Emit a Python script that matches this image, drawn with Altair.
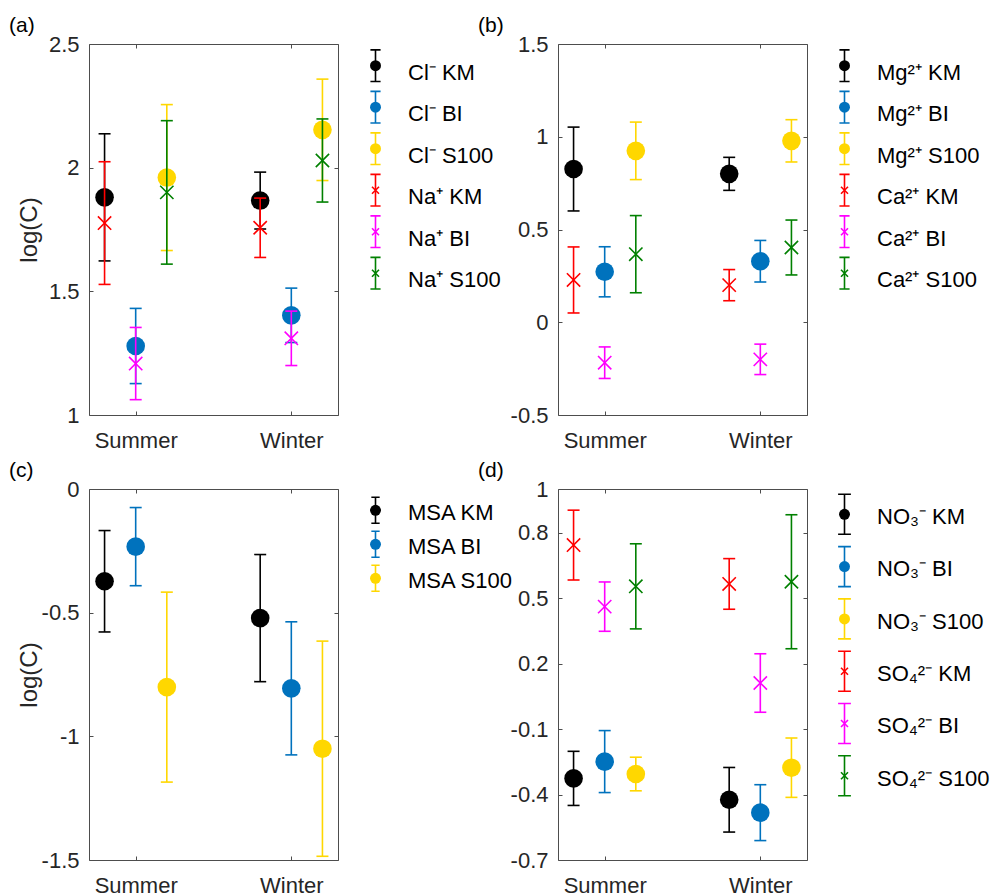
import json
import altair as alt
import pandas as pd

SEASONS = ["Summer", "Winter"]
STATIONS = ["KM", "BI", "S100"]

# rows: KM, BI, S100 ; columns: Summer, Winter
# panel (a)
CL_MEAN = [[1.880, 1.867], [1.279, 1.403], [1.960, 2.153]]
CL_ERR = [[0.257, 0.115], [0.152, 0.110], [0.295, 0.205]]
NA_MEAN = [[1.776, 1.757], [1.208, 1.310], [1.900, 2.029]]
NA_ERR = [[0.248, 0.120], [0.146, 0.110], [0.290, 0.168]]
# panel (b)
MG_MEAN = [[0.826, 0.800], [0.272, 0.329], [0.924, 0.978]]
MG_ERR = [[0.226, 0.089], [0.135, 0.112], [0.155, 0.114]]
CA_MEAN = [[0.228, 0.200], [-0.218, -0.200], [0.367, 0.403]]
CA_ERR = [[0.178, 0.084], [0.085, 0.082], [0.208, 0.148]]
# panel (c)
MSA_MEAN = [[-0.373, -0.522], [-0.233, -0.806], [-0.801, -1.050]]
MSA_ERR = [[0.205, 0.257], [0.158, 0.269], [0.384, 0.435]]
# panel (d)
NO3_MEAN = [[-0.326, -0.424], [-0.249, -0.483], [-0.306, -0.277]]
NO3_ERR = [[0.124, 0.148], [0.142, 0.128], [0.077, 0.136]]
SO4_MEAN = [[0.743, 0.565], [0.461, 0.111], [0.554, 0.575]]
SO4_ERR = [[0.160, 0.116], [0.113, 0.134], [0.195, 0.307]]

ION_A = ["Cl⁻", "Na⁺"]
ION_B = ["Mg²⁺", "Ca²⁺"]
ION_C = ["MSA"]
ION_D = ["NO₃⁻", "SO₄²⁻"]

YDOM_A, YTICKS_A = [1, 2.5], [1, 1.5, 2, 2.5]
YDOM_B, YTICKS_B = [-0.5, 1.5], [-0.5, 0, 0.5, 1, 1.5]
YDOM_C, YTICKS_C = [-1.5, 0], [-1.5, -1, -0.5, 0]
YDOM_D, YTICKS_D = [-0.7, 1], [-0.7, -0.4, -0.1, 0.2, 0.5, 0.8, 1]

# styles
COLORS = [["#000000", "#0072BD", "#FFD700"], ["#FF0000", "#FF00FF", "#008000"]]
FONT = "Liberation Sans"
AXC = "#262626"
W, H = 249, 371
LW = 1.6
XPATH = "M-1,-1L1,1M-1,1L1,-1"
GLYPH = "M0,-1L0,1M-0.32,-1L0.32,-1M-0.32,1L0.32,1"


def make_df(ions, means, errs):
    rows = []
    for g, ion in enumerate(ions):
        for si, st in enumerate(STATIONS):
            for ki, _ in enumerate(SEASONS):
                rows.append(dict(series=f"{ion} {st}", group=g, station=si,
                                 season=ki + 1, mean=means[g][si][ki],
                                 err=errs[g][si][ki]))
    return pd.DataFrame(rows)


def make_plot(ions, means, errs, ydom, yticks, tag, ytitle):
    df = make_df(ions, means, errs)
    base = alt.Chart(df).transform_calculate(
        x="datum.season + (datum.station - 1) * 0.2",
        lo="datum.mean - datum.err",
        hi="datum.mean + datum.err",
    )
    xs = alt.Scale(domain=[0.7, 2.3], nice=False, zero=False)
    ys = alt.Scale(domain=ydom, nice=False, zero=False)
    season_expr = json.dumps(SEASONS) + "[datum.value - 1]"
    ax_bottom = alt.Axis(orient="bottom", values=[1, 2], labelExpr=season_expr,
                         offset=-4, labelPadding=15, labelFlush=False, title=None)
    ax_top = alt.Axis(orient="top", values=[1, 2], labels=False, offset=-4, title=None)
    left_kw = dict(orient="left", values=yticks, labelExpr="toString(datum.value)",
                   offset=-4, labelPadding=10, labelFlush=False)
    if ytitle:
        ax_left = alt.Axis(title=ytitle, titleX=-52, titleY=H / 2, titleAngle=270,
                           titleBaseline="bottom", titleAlign="center", **left_kw)
    else:
        ax_left = alt.Axis(title=None, **left_kw)
    ax_right = alt.Axis(orient="right", values=yticks, labels=False, offset=-4, title=None)

    layers = []
    idx = 0
    for g, ion in enumerate(ions):
        for si, st in enumerate(STATIONS):
            name = f"{ion} {st}"
            col = COLORS[g][si]
            b = base.transform_filter(alt.datum.series == name)
            if idx == 0:
                xa, ya = ax_bottom, ax_left
            elif idx == 1:
                xa, ya = ax_top, ax_right
            else:
                xa, ya = None, None
            idx += 1
            layers.append(b.mark_rule(color=col, strokeWidth=LW).encode(
                x=alt.X("x:Q", scale=xs, axis=xa),
                y=alt.Y("lo:Q", scale=ys, axis=ya),
                y2="hi:Q"))
            for f in ["lo", "hi"]:
                layers.append(b.mark_rule(color=col, strokeWidth=LW, xOffset=-6, x2Offset=6).encode(
                    x=alt.X("x:Q", scale=xs, axis=None), x2="x:Q",
                    y=alt.Y(f"{f}:Q", scale=ys, axis=None)))
            if g == 0:
                pt = b.mark_point(shape="circle", filled=True, size=346, color=col, opacity=1)
            else:
                pt = b.mark_point(shape=XPATH, filled=False, size=177, color=col,
                                  strokeWidth=LW, opacity=1)
            layers.append(pt.encode(x=alt.X("x:Q", scale=xs, axis=None),
                                    y=alt.Y("mean:Q", scale=ys, axis=None)))
    return alt.layer(*layers).resolve_axis(x="independent", y="independent").properties(
        width=W, height=H,
        view=alt.ViewBackground(stroke="#4d4d4d", strokeWidth=1),
        title=alt.TitleParams(text=tag, anchor="start", frame="group", dx=-80, offset=-20,
                              fontSize=21, fontWeight="normal", font=FONT, color="black",
                              baseline="alphabetic"),
    )


def make_legend(ions, width, first, step, text_dy):
    labels, colors, groups = [], [], []
    for g, ion in enumerate(ions):
        for si, st in enumerate(STATIONS):
            labels.append(f"{ion} {st}")
            colors.append(COLORS[g][si])
            groups.append(g)
    df = pd.DataFrame(dict(label=labels, group=groups))
    n = len(labels)
    y = alt.Y("label:N", axis=None,
              scale=alt.Scale(type="point", domain=labels,
                              range=[first, first + (n - 1) * step], padding=0))
    color = alt.Color("label:N", scale=alt.Scale(domain=labels, range=colors), legend=None)
    base = alt.Chart(df)
    glyph = base.mark_point(shape=GLYPH, filled=False, size=(0.765 * step) ** 2,
                            strokeWidth=LW, opacity=1).encode(x=alt.value(37.5), y=y, color=color)
    circ = base.transform_filter(alt.datum.group == 0).mark_point(
        shape="circle", filled=True, size=120, opacity=1).encode(x=alt.value(37.5), y=y, color=color)
    crs = base.transform_filter(alt.datum.group == 1).mark_point(
        shape=XPATH, filled=False, size=49, strokeWidth=LW, opacity=1).encode(
        x=alt.value(37.5), y=y, color=color)
    txt = base.mark_text(align="left", baseline="alphabetic", dy=text_dy, fontSize=22,
                         font=FONT, color="black").encode(x=alt.value(70), y=y, text="label:N")
    return alt.layer(glyph, circ, crs, txt).properties(
        width=width, height=H, view=alt.ViewBackground(strokeOpacity=0))


pa = make_plot(ION_A, [CL_MEAN, NA_MEAN], [CL_ERR, NA_ERR], YDOM_A, YTICKS_A, "(a)", "log(C)")
pb = make_plot(ION_B, [MG_MEAN, CA_MEAN], [MG_ERR, CA_ERR], YDOM_B, YTICKS_B, "(b)", None)
pc = make_plot(ION_C, [MSA_MEAN], [MSA_ERR], YDOM_C, YTICKS_C, "(c)", "log(C)")
pd_ = make_plot(ION_D, [NO3_MEAN, SO4_MEAN], [NO3_ERR, SO4_ERR], YDOM_D, YTICKS_D, "(d)", None)

la = make_legend(ION_A, 220, 21.7, 41.5, 14)
lb = make_legend(ION_B, 180, 21.7, 41.5, 14)
lc = make_legend(ION_C, 220, 21.3, 34, 9.7)
ld = make_legend(ION_D, 180, 25.3, 52.3, 9.7)

chart = alt.concat(pa, la, pb, lb, pc, lc, pd_, ld, columns=4,
                   spacing={"row": 74, "column": 0}, bounds="flush").resolve_scale(
    color="independent"
).properties(
    padding={"left": 8, "top": 14, "right": 0, "bottom": 0}
).configure_view(stroke="#4d4d4d").configure_axis(
    domain=False, grid=False, tickColor="#4d4d4d", tickSize=4, tickWidth=1,
    labelFont=FONT, labelFontSize=22, labelColor=AXC,
    titleFont=FONT, titleFontSize=24, titleFontWeight="normal", titleColor=AXC,
)

chart.save("out.html", embed_options={"renderer": "svg", "actions": False})
